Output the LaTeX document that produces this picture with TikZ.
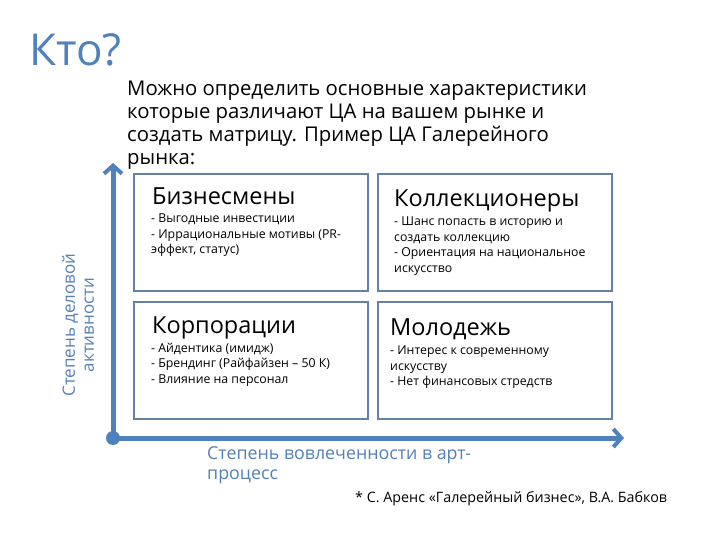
\documentclass[tikz,border=0pt]{standalone}
\usepackage{fontspec}
\setmainfont{Open Sans}
\usetikzlibrary{arrows.meta}
\definecolor{axisblue}{RGB}{79,129,189}
\definecolor{boxline}{RGB}{100,130,165}
\definecolor{labelblue}{RGB}{84,128,185}
\tikzset{
  quad/.style={draw=boxline, line width=2pt, minimum width=234pt, minimum height=117pt, anchor=north west, inner sep=0pt},
  qtitle/.style={anchor=base west, inner sep=0pt, font=\fontsize{23.5}{26}\selectfont},
  qbody/.style={anchor=north west, inner sep=0pt, align=left, font=\fontsize{12.3}{15.5}\selectfont},
  axisline/.style={draw=axisblue, line width=5pt, -{Straight Barb[length=8pt,width=18pt,line width=4pt]}},
}
\begin{document}
\begin{tikzpicture}[x=1pt,y=-1pt]
\useasboundingbox (0,0) rectangle (720,540);
\node[anchor=base west, inner sep=0pt, text=axisblue, font=\fontsize{44}{50}\selectfont] (title) at (29,66) {Кто?};
\node[anchor=north west, inner sep=0pt, align=left, font=\fontsize{20.3}{23}\selectfont] (intro) at (127,81)
  {Можно определить основные характеристики\\которые различают ЦА на вашем рынке и\\создать матрицу. Пример ЦА Галерейного\\рынка:};
% quadrants
\node[quad] (tl) at (133,173) {};
\node[quad] (tr) at (377,173) {};
\node[quad] (bl) at (133,301) {};
\node[quad] (br) at (377,301) {};
\node[qtitle] (tlt) at (152,205) {Бизнесмены};
\node[qbody] (tlb) at (151,214) {- Выгодные инвестиции\\- Иррациональные мотивы (PR-\\эффект, статус)};
\node[qtitle] (trt) at (394,207) {Коллекционеры};
\node[qbody] (trb) at (394,217) {- Шанс попасть в историю и\\создать коллекцию\\- Ориентация на национальное\\искусство};
\node[qtitle] (blt) at (152,333) {Корпорации};
\node[qbody] (blb) at (151,343) {- Айдентика (имидж)\\- Брендинг (Райфайзен – 50 К)\\- Влияние на персонал};
\node[qtitle] (brt) at (390,335) {Молодежь};
\node[qbody] (brb) at (390,346) {- Интерес к современному\\искусству\\- Нет финансовых стредств};
% axes
\node[circle, fill=axisblue, minimum size=14pt, inner sep=0pt] (o) at (113,438) {};
\coordinate (ytip) at (113,163);
\coordinate (xtip) at (624,438);
\draw[axisline] (o.center) -- (ytip);
\draw[axisline] (o.center) -- (xtip);
\node[rotate=90, anchor=center, align=center, text=labelblue, font=\fontsize{17}{19}\selectfont] (ylab) at (78,325) {Степень деловой\\активности};
\node[anchor=north west, inner sep=0pt, align=left, text=labelblue, font=\fontsize{17.8}{20}\selectfont] (xlab) at (207,446) {Степень вовлеченности в арт-\\процесс};
\node[anchor=base west, inner sep=0pt, font=\fontsize{14.3}{16}\selectfont] (note) at (355,502) {* С. Аренс «Галерейный бизнес», В.А. Бабков};
\end{tikzpicture}
\end{document}
